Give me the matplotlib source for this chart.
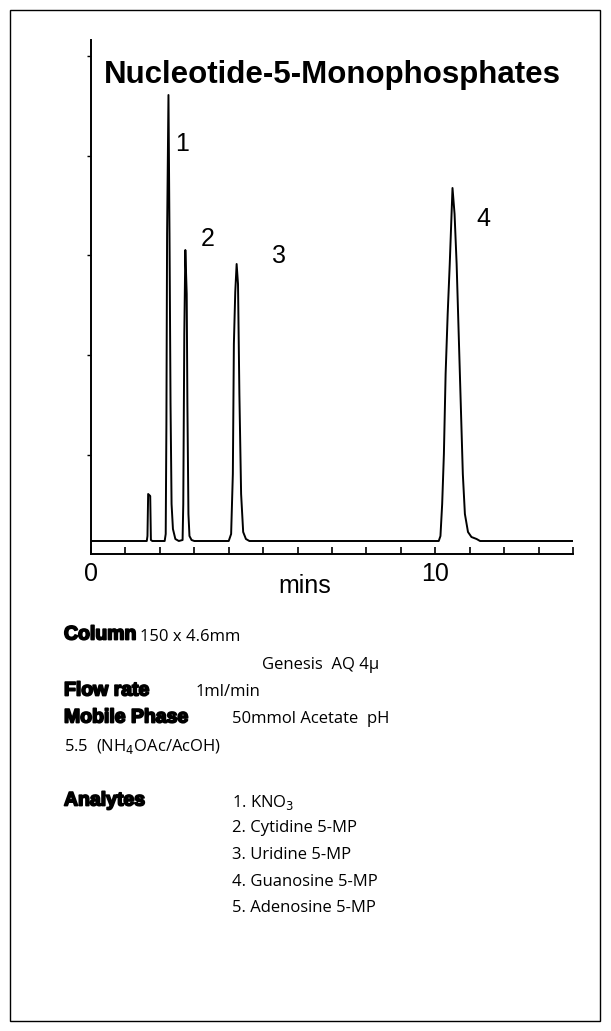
import matplotlib.pyplot as plt
import matplotlib.patheffects as pe
from matplotlib.patches import Rectangle

# chromatogram trace (minutes, detector signal)
time = [0, 1.62, 1.64, 1.66, 1.72, 1.74, 1.78, 2.14, 2.17, 2.19, 2.21, 2.25, 2.28, 2.31, 2.34,
        2.38, 2.45, 2.55, 2.66, 2.68, 2.71, 2.74, 2.78, 2.8, 2.83, 2.86, 2.92, 3.0, 4.0, 4.07,
        4.12, 4.15, 4.19, 4.23, 4.27, 4.31, 4.36, 4.42, 4.5, 4.6, 10.1, 10.15, 10.2, 10.25,
        10.3, 10.36, 10.42, 10.5, 10.56, 10.62, 10.68, 10.74, 10.8, 10.86, 10.95, 11.05,
        11.2, 11.3, 14]
signal = [13, 13, 18, 60, 58, 14, 13, 13, 20, 130, 320, 459, 320, 150, 50,
          25, 15, 13, 14, 50, 220, 304, 260, 150, 40, 18, 14, 13, 13, 20,
          80, 210, 262, 290, 270, 160, 60, 22, 15, 13, 13, 18, 50, 100,
          180, 240, 290, 366, 340, 290, 220, 150, 80, 40, 22, 17, 15, 13, 13]
peak_labels = ['1', '2', '3', '4']
peak_label_pos = [(2.65, 410), (3.4, 315), (5.45, 298), (11.4, 335)]

body = 'Open Sans'
heavy = dict(family='Liberation Sans', weight='bold', fontsize=14,
             path_effects=[pe.withStroke(linewidth=1.3, foreground='black')])

fig = plt.figure(figsize=(6.11, 10.31), dpi=100)
fig.patches.append(Rectangle((10/611, 10/1031), 590/611, 1011/1031, transform=fig.transFigure,
                             fill=False, edgecolor='black', linewidth=1))

ax = fig.add_axes([91/611, 1 - 554/1031, 482/611, 514/1031])
ax.plot(time, signal, color='black', linewidth=1.4)
ax.set_xlim(0, 14)
ax.set_ylim(0, 514)
for s in ['top', 'right']:
    ax.spines[s].set_visible(False)
ax.spines['left'].set_linewidth(1.4)
ax.spines['bottom'].set_linewidth(1.4)
ax.set_xticks([0, 10])
ax.set_xticklabels(['0', '10'], family='Liberation Sans', fontsize=18)
ax.set_xticks(range(0, 15), minor=True)
ax.tick_params(axis='x', which='both', direction='in', length=5, width=1.2, pad=6)
ax.set_yticks([99, 199, 299, 398, 498])
ax.set_yticklabels([])
ax.tick_params(axis='y', direction='out', length=3, width=1)
ax.text(6.2, -20, 'mins', fontsize=18, family='Liberation Sans', ha='center', va='top')
ax.text(0.5, 1 - (75 - 40) / 514, 'Nucleotide-5-Monophosphates', transform=ax.transAxes,
        ha='center', va='center', fontsize=22.5, weight='bold', family='Liberation Sans')
for lab, (x, y) in zip(peak_labels, peak_label_pos):
    ax.text(x, y, lab, fontsize=18, family='Liberation Sans', ha='center', va='center')

def fy(py):
    return 1 - py / 1031

def fx(px):
    return px / 611

fs = 12
fig.text(fx(64), fy(635), 'Column', va='center', **heavy)
fig.text(fx(140), fy(637), '150 x 4.6mm', va='center', family=body, fontsize=fs)
fig.text(fx(262), fy(665), 'Genesis  AQ 4\u03bc', va='center', family=body, fontsize=fs)
fig.text(fx(64), fy(691), 'Flow rate', va='center', **heavy)
fig.text(fx(196), fy(692), '1ml/min', va='center', family=body, fontsize=fs)
fig.text(fx(64), fy(718), 'Mobile Phase', va='center', **heavy)
fig.text(fx(232), fy(719), '50mmol Acetate  pH', va='center', family=body, fontsize=fs)
fig.text(fx(64), fy(746), '5.5  (NH$_4$OAc/AcOH)', va='center', family=body, fontsize=fs)
fig.text(fx(64), fy(801), 'Analytes', va='center', **heavy)
analytes = ['1. KNO$_3$', '2. Cytidine 5-MP', '3. Uridine 5-MP', '4. Guanosine 5-MP', '5. Adenosine 5-MP']
for i, a in enumerate(analytes):
    fig.text(fx(232), fy(802 + i * 26.5), a, va='center', family=body, fontsize=fs)

fig.savefig('out.png', dpi=100)
